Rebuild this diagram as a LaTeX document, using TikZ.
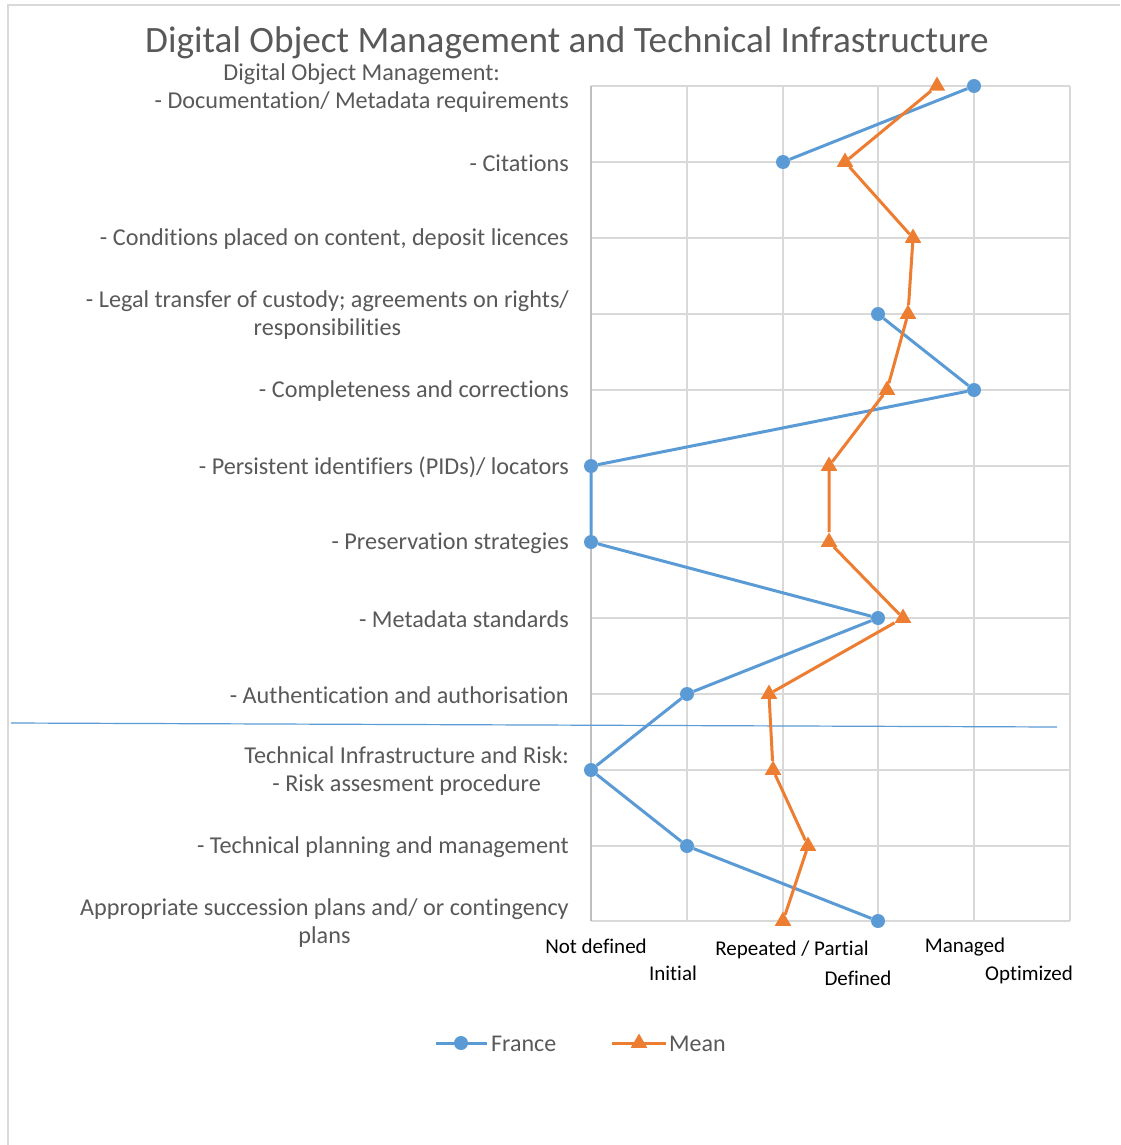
\documentclass[tikz,border=0pt]{standalone}
\usepackage{fontspec}
\setmainfont{Carlito}[Ligatures=NoCommon]
\usetikzlibrary{shapes.geometric}
\definecolor{fblue}{HTML}{5B9BD5}
\definecolor{morange}{HTML}{ED7D31}
\definecolor{gridc}{HTML}{D9D9D9}
\definecolor{axisc}{HTML}{BFBFBF}
\definecolor{txtc}{HTML}{595959}
\begin{document}
\begin{tikzpicture}[x=1pt,y=-1pt,
  gridline/.style={draw=gridc,line width=2pt},
  axisline/.style={draw=axisc,line width=2pt},
  frameline/.style={draw=gridc,line width=1.5pt},
  catlabel/.style={anchor=east,align=center,text=txtc,inner sep=0pt,font=\fontsize{24.2}{28.5}\selectfont},
  levlabel/.style={text=black,inner sep=0pt,font=\fontsize{21}{25}\selectfont},
  legtext/.style={anchor=west,text=txtc,inner sep=0pt,font=\fontsize{24}{28}\selectfont},
  fdot/.style={circle,fill=fblue,inner sep=0pt,minimum size=14pt},
  mtri/.style={regular polygon,regular polygon sides=3,fill=morange,inner sep=0pt,minimum size=19pt},
  fline/.style={draw=fblue,line width=3pt},
  mline/.style={draw=morange,line width=3pt},
  sepline/.style={draw=fblue,line width=1.2pt}]
\useasboundingbox (0,0) rectangle (1120,1145);
\fill[white] (0,0) rectangle (1120,1145);
% chart frame (top and left edges visible)
\coordinate (frTL) at (8,5);
\coordinate (frTR) at (1120,5);
\coordinate (frBL) at (8,1145);
\draw[frameline] (frTR) -- (frTL) -- (frBL);
% title
\node[text=txtc,font=\fontsize{37.2}{41}\selectfont] (title) at (567,43) {Digital Object Management and Technical Infrastructure};
% grid
\foreach \y in {86,162,238,314,390,466,542,618,694,770,846,921}
  \draw[gridline] (591,\y) -- (1070,\y);
\foreach \x in {687,783,878,974,1070}
  \draw[gridline] (\x,86) -- (\x,921);
\draw[axisline] (591,86) -- (591,921);
% category labels
\node[catlabel] (c0) at (569,88) {Digital Object Management:\\- Documentation/ Metadata requirements};
\node[catlabel] (c1) at (569,163) {- Citations};
\node[catlabel] (c2) at (569,239) {- Conditions placed on content, deposit licences};
\node[catlabel] (c3) at (569,315) {- Legal transfer of custody; agreements on rights/\\responsibilities};
\node[catlabel] (c4) at (569,391) {- Completeness and corrections};
\node[catlabel] (c5) at (569,467) {- Persistent identifiers (PIDs)/ locators};
\node[catlabel] (c6) at (569,543) {- Preservation strategies};
\node[catlabel] (c7) at (569,619) {- Metadata standards};
\node[catlabel] (c8) at (569,695) {- Authentication and authorisation};
\node[catlabel] (c9) at (569,771) {Technical Infrastructure and Risk:\\- Risk assesment procedure};
\node[catlabel] (c10) at (569,847) {- Technical planning and management};
\node[catlabel] (c11) at (569,923) {Appropriate succession plans and/ or contingency\\plans};
% level labels
\node[levlabel] (l0) at (596,946) {Not defined};
\node[levlabel] (l1) at (673,973) {Initial};
\node[levlabel] (l2) at (792,950) {Repeated / Partial};
\node[levlabel] (l3) at (858,978) {Defined};
\node[levlabel] (l4) at (965,947) {Managed};
\node[levlabel] (l5) at (1029,975) {Optimized};
% separator
\coordinate (sepA) at (11,723);
\coordinate (sepB) at (1057,727);
\draw[sepline] (sepA) -- (sepB);
% France series
\node[fdot] (f0) at (974,86) {};
\node[fdot] (f1) at (783,162) {};
\node[fdot] (f3) at (878,314) {};
\node[fdot] (f4) at (974,390) {};
\node[fdot] (f5) at (591,466) {};
\node[fdot] (f6) at (591,542) {};
\node[fdot] (f7) at (878,618) {};
\node[fdot] (f8) at (687,694) {};
\node[fdot] (f9) at (591,770) {};
\node[fdot] (f10) at (687,846) {};
\node[fdot] (f11) at (878,921) {};
\draw[fline] (f0) -- (f1);
\draw[fline] (f3) -- (f4) -- (f5) -- (f6) -- (f7) -- (f8) -- (f9) -- (f10) -- (f11);
% Mean series
\node[mtri] (m0) at (937,86) {};
\node[mtri] (m1) at (845,162) {};
\node[mtri] (m2) at (913,238) {};
\node[mtri] (m3) at (908,314) {};
\node[mtri] (m4) at (887,390) {};
\node[mtri] (m5) at (829,466) {};
\node[mtri] (m6) at (829,542) {};
\node[mtri] (m7) at (903,618) {};
\node[mtri] (m8) at (769,694) {};
\node[mtri] (m9) at (773,770) {};
\node[mtri] (m10) at (808,846) {};
\node[mtri] (m11) at (783,921) {};
\draw[mline] (m0) -- (m1) -- (m2) -- (m3) -- (m4) -- (m5) -- (m6) -- (m7) -- (m8) -- (m9) -- (m10) -- (m11);
% legend
\coordinate (lfA) at (436,1043);
\coordinate (lfB) at (487,1043);
\draw[fline] (lfA) -- (lfB);
\node[fdot] (lfdot) at (461,1043) {};
\node[legtext] (lftext) at (491,1044) {France};
\coordinate (lmA) at (612,1043);
\coordinate (lmB) at (666,1043);
\draw[mline] (lmA) -- (lmB);
\node[mtri] (lmtri) at (639,1043) {};
\node[legtext] (lmtext) at (669,1044) {Mean};
\end{tikzpicture}
\end{document}
